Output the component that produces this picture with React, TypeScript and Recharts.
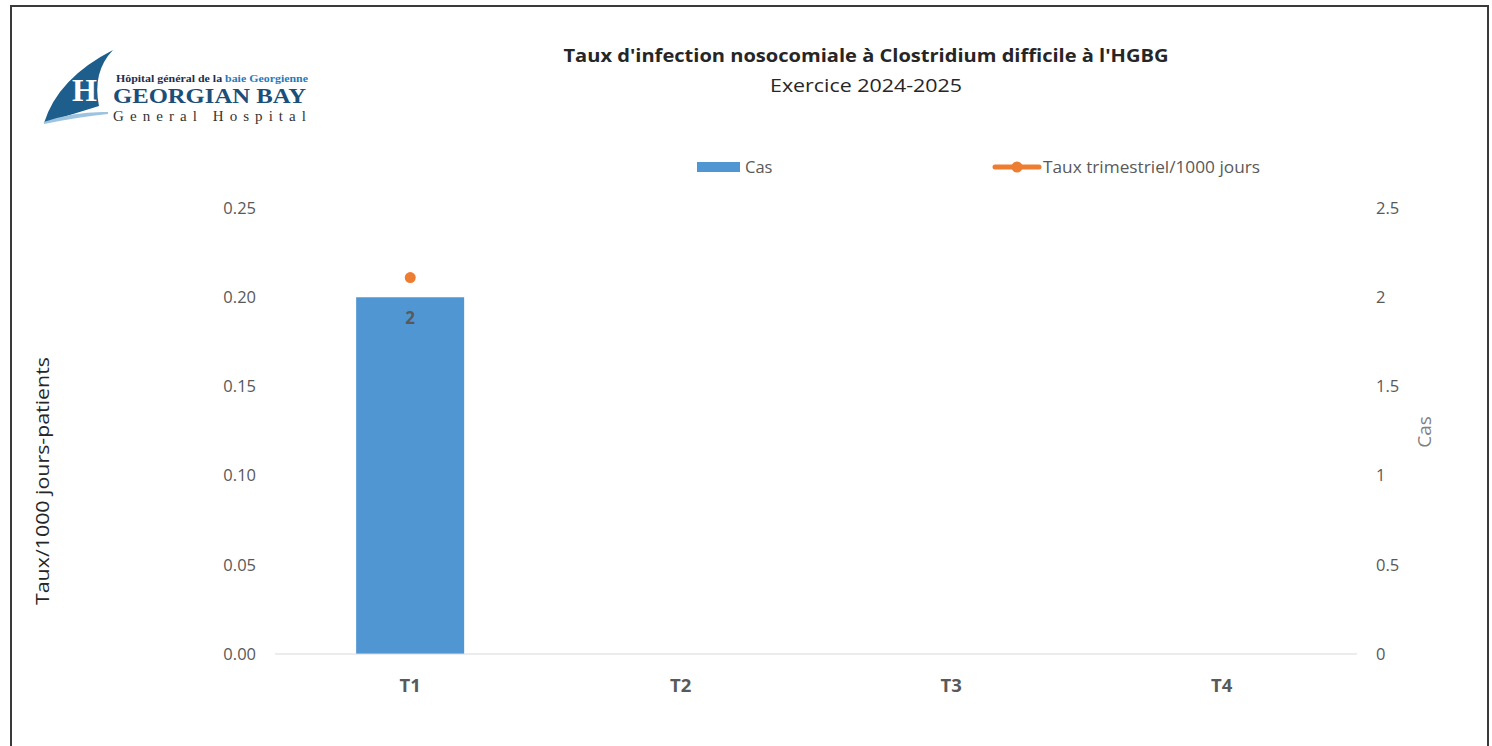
import { ComposedChart, Bar, Line, XAxis, YAxis, LabelList } from 'recharts';

const quarters = ['T1', 'T2', 'T3', 'T4'];
const casValues = [2, null, null, null];
const tauxValues = [0.211, null, null, null];
const rateTicks = [0, 0.05, 0.1, 0.15, 0.2, 0.25];
const casTicks = [0, 0.5, 1, 1.5, 2, 2.5];

const chartTitle = "Taux d'infection nosocomiale à Clostridium difficile à l'HGBG";
const chartSubtitle = 'Exercice 2024-2025';
const leftLabel = 'Taux/1000 jours-patients';
const rightLabel = 'Cas';
const casName = 'Cas';
const tauxName = 'Taux trimestriel/1000 jours';

const data = quarters.map((q, i) => ({ q, cas: casValues[i], taux: tauxValues[i] }));

const FONT = '"Open Sans", "Noto Sans", sans-serif';
const BLUE = '#5096D2';
const ORANGE = '#ED7D31';
const GREY = '#595959';

function Logo() {
    return (
        <g>
            {/* sail */}
            <path d="M44,123 Q58,78 113,50 Q92,72 99,106 Z" fill="#1d5e8c" />
            <path d="M44,123 Q75,112 108,113 Q78,116 44,123 Z" fill="#9cc3df" stroke="#9cc3df" strokeWidth={2} />
            <text x={72} y={101} fontFamily="Liberation Serif, serif" fontWeight="bold" fontSize={32} fill="#ffffff">H</text>
            <text x={116} y={82} fontFamily="Liberation Serif, serif" fontWeight="bold" fontSize={10.5} fill="#1b2f4d"
                textLength={192} lengthAdjust="spacingAndGlyphs">
                Hôpital général de la <tspan fill="#2a7ab8">baie Georgienne</tspan>
            </text>
            <text x={113} y={103} fontFamily="Liberation Serif, serif" fontWeight="bold" fontSize={22} fill="#1b4f7a"
                textLength={193} lengthAdjust="spacingAndGlyphs">GEORGIAN BAY</text>
            <text x={113} y={121} fontFamily="Liberation Serif, serif" fontSize={15} fill="#333"
                textLength={193} lengthAdjust="spacing">General Hospital</text>
        </g>
    );
}

export default function App() {
    return (
        <div style={{ position: 'fixed', left: 0, top: 0, width: 1492, height: 746, background: '#fff', overflow: 'hidden' }}>
            <ComposedChart width={1492} height={746} data={data}
                margin={{ top: 208, right: 0, bottom: 62, left: 0 }} barCategoryGap="30%">
                <XAxis dataKey="q" axisLine={{ stroke: '#D9D9D9' }} tickLine={false} tickSize={0} tickMargin={25}
                    tick={{ fill: GREY, fontSize: 18.5, fontWeight: 'bold', fontFamily: FONT }} />
                <YAxis yAxisId="rate" domain={[0, 0.25]} ticks={rateTicks} width={275}
                    axisLine={false} tickLine={false} tickSize={0} tickMargin={19}
                    tickFormatter={(v: number) => v.toFixed(2)}
                    tick={{ fill: GREY, fontSize: 16.5, fontFamily: FONT }} />
                <YAxis yAxisId="cas" orientation="right" domain={[0, 2.5]} ticks={casTicks} width={135}
                    axisLine={false} tickLine={false} tickSize={0} tickMargin={19}
                    tick={{ fill: GREY, fontSize: 16.5, fontFamily: FONT }} />
                <Bar yAxisId="cas" dataKey="cas" name={casName} fill={BLUE} isAnimationActive={false}>
                    <LabelList dataKey="cas" position="insideTop" offset={15}
                        style={{ fill: GREY, fontSize: 17, fontWeight: 'bold', fontFamily: FONT }} />
                </Bar>
                <Line yAxisId="rate" dataKey="taux" name={tauxName} stroke={ORANGE} strokeWidth={4}
                    dot={{ r: 5.5, fill: ORANGE, stroke: ORANGE, strokeWidth: 0 }} isAnimationActive={false} />
            </ComposedChart>
            <svg width={1492} height={746} style={{ position: 'absolute', left: 0, top: 0, pointerEvents: 'none' }}>
                <rect x={11} y={6} width={1477} height={800} fill="none" stroke="#3a3a3a" strokeWidth={2} />
                <Logo />
                <text x={866} y={62} textAnchor="middle" fontFamily={FONT} fontWeight="bold" fontSize={18.5} fill="#262626"
                    textLength={605} lengthAdjust="spacingAndGlyphs">{chartTitle}</text>
                <text x={866} y={92} textAnchor="middle" fontFamily={FONT} fontSize={18.5} fill="#262626"
                    textLength={192} lengthAdjust="spacingAndGlyphs">{chartSubtitle}</text>
                {/* legend */}
                <rect x={697} y={162} width={43} height={10} fill={BLUE} />
                <text x={745} y={173} fontFamily={FONT} fontSize={16.5} fill={GREY}>{casName}</text>
                <line x1={995} y1={167} x2={1039} y2={167} stroke={ORANGE} strokeWidth={5} strokeLinecap="round" />
                <circle cx={1017} cy={167} r={5.5} fill={ORANGE} />
                <text x={1043} y={173} fontFamily={FONT} fontSize={16.5} fill={GREY}
                    textLength={217} lengthAdjust="spacingAndGlyphs">{tauxName}</text>
                {/* axis titles */}
                <text x={49} y={481} transform="rotate(-90 49 481)" textAnchor="middle" fontFamily={FONT} fontSize={19}
                    fill="#262626" textLength={248} lengthAdjust="spacingAndGlyphs">{leftLabel}</text>
                <text x={1431} y={432} transform="rotate(-90 1431 432)" textAnchor="middle" fontFamily={FONT} fontSize={19}
                    fill="#7f7f7f">{rightLabel}</text>
            </svg>
        </div>
    );
}
